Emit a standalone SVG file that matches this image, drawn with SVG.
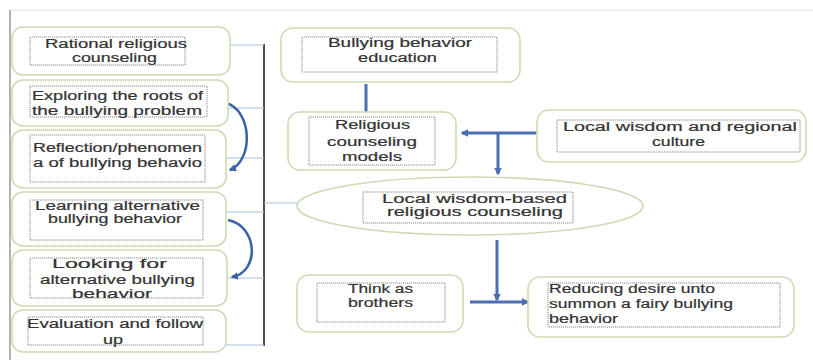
<svg xmlns="http://www.w3.org/2000/svg" width="813" height="360" viewBox="0 0 813 360">
<defs>
<style>
.box{fill:#fff;stroke:#cddbb4;stroke-width:1.6}
.inner{fill:#fff;stroke:#8a8a8a;stroke-width:1;stroke-dasharray:1.2 0.8}
.t{font-family:"Liberation Sans",Arial,sans-serif;font-size:12.5px;fill:#333;stroke:#333;stroke-width:0.2}
.thin{stroke:#a9c0de;stroke-width:1.2;fill:none}
.blue{stroke:#4a6fb0;stroke-width:3;fill:none}
.arc{stroke:#3b62a6;stroke-width:2.5;fill:none}
</style>
<marker id="ah" viewBox="0 0 10 10" refX="8" refY="5" markerWidth="2.6" markerHeight="2.6" orient="auto">
<path d="M0,0 L10,5 L0,10 z" fill="#4a6fb0"/>
</marker>
<marker id="ah2" viewBox="0 0 10 10" refX="8" refY="5" markerWidth="3" markerHeight="3" orient="auto">
<path d="M0,0 L10,5 L0,10 z" fill="#3b62a6"/>
</marker>
</defs>
<rect width="813" height="360" fill="#fff"/>
<g id="frame">
<line x1="10" y1="10" x2="813" y2="10" stroke="#e2e2e2" stroke-width="1"/>
<line x1="10" y1="10" x2="10" y2="360" stroke="#666" stroke-width="1"/>
<line x1="264" y1="44" x2="264" y2="346" stroke="#111" stroke-width="1.5"/>
</g>
<g id="connectors">
<line class="thin" x1="230" y1="45" x2="264" y2="45"/>
<line class="thin" x1="228" y1="108" x2="264" y2="108"/>
<line class="thin" x1="226" y1="158" x2="264" y2="158"/>
<line class="thin" x1="226" y1="212" x2="264" y2="212"/>
<line class="thin" x1="227" y1="278" x2="264" y2="278"/>
<line class="thin" x1="226" y1="345" x2="264" y2="345"/>
<line class="thin" x1="264" y1="203" x2="297" y2="203"/>
<path class="arc" d="M226,103 C252,110 254,160 230,170" marker-end="url(#ah2)"/>
<path class="arc" d="M228,220 C258,226 260,272 232,277" marker-end="url(#ah2)"/>
<line class="blue" x1="366" y1="84" x2="366" y2="114"/>
<line class="blue" x1="537" y1="133" x2="462" y2="133" marker-end="url(#ah)"/>
<line class="blue" x1="498" y1="133" x2="498" y2="174" marker-end="url(#ah)"/>
<line class="blue" x1="497" y1="240" x2="497" y2="300" marker-end="url(#ah)"/>
<line class="blue" x1="470" y1="302" x2="528" y2="302" marker-end="url(#ah)"/>
</g>
<g id="n1">
<rect class="box" x="12" y="27" width="218" height="48" rx="11"/>
<rect class="inner" x="30" y="37" width="155" height="28"/>
<text class="t" x="45" y="48" textLength="142" lengthAdjust="spacingAndGlyphs">Rational religious</text>
<text class="t" x="72" y="62" textLength="85" lengthAdjust="spacingAndGlyphs">counseling</text>
</g>
<g id="n2">
<rect class="box" x="12" y="80" width="216" height="46" rx="11"/>
<rect class="inner" x="30" y="86" width="177" height="31"/>
<text class="t" x="32" y="100" textLength="171" lengthAdjust="spacingAndGlyphs">Exploring the roots of</text>
<text class="t" x="32" y="115" textLength="170" lengthAdjust="spacingAndGlyphs">the bullying problem</text>
</g>
<g id="n3">
<rect class="box" x="12" y="130" width="214" height="58" rx="11"/>
<rect class="inner" x="30" y="135" width="175" height="47"/>
<text class="t" x="33" y="152" textLength="169" lengthAdjust="spacingAndGlyphs">Reflection/phenomen</text>
<text class="t" x="33" y="167" textLength="169" lengthAdjust="spacingAndGlyphs">a of bullying behavio</text>
</g>
<g id="n4">
<rect class="box" x="12" y="192" width="214" height="54" rx="11"/>
<rect class="inner" x="30" y="200" width="173" height="40"/>
<text class="t" x="35" y="210" textLength="165" lengthAdjust="spacingAndGlyphs">Learning alternative</text>
<text class="t" x="48" y="223" textLength="134" lengthAdjust="spacingAndGlyphs">bullying behavior</text>
</g>
<g id="n5">
<rect class="box" x="12" y="250" width="215" height="56" rx="11"/>
<rect class="inner" x="30" y="258" width="173" height="40"/>
<text class="t" x="52" y="268" textLength="115" lengthAdjust="spacingAndGlyphs">Looking for</text>
<text class="t" x="40" y="284" textLength="155" lengthAdjust="spacingAndGlyphs">alternative bullying</text>
<text class="t" x="72" y="298" textLength="80" lengthAdjust="spacingAndGlyphs">behavior</text>
</g>
<g id="n6">
<rect class="box" x="12" y="310" width="214" height="42" rx="11"/>
<rect class="inner" x="28" y="317" width="175" height="28"/>
<text class="t" x="27" y="328" textLength="176" lengthAdjust="spacingAndGlyphs">Evaluation and follow</text>
<text class="t" x="103" y="344" textLength="20" lengthAdjust="spacingAndGlyphs">up</text>
</g>
<g id="n7">
<rect class="box" x="281" y="28" width="239" height="54" rx="12"/>
<rect class="inner" x="302" y="37" width="195" height="35"/>
<text class="t" x="328" y="47" textLength="144" lengthAdjust="spacingAndGlyphs">Bullying behavior</text>
<text class="t" x="358" y="62" textLength="79" lengthAdjust="spacingAndGlyphs">education</text>
</g>
<g id="n8">
<rect class="box" x="288" y="112" width="168" height="58" rx="12"/>
<rect class="inner" x="309" y="117" width="126" height="48"/>
<text class="t" x="335" y="129" textLength="75" lengthAdjust="spacingAndGlyphs">Religious</text>
<text class="t" x="327" y="146" textLength="90" lengthAdjust="spacingAndGlyphs">counseling</text>
<text class="t" x="342" y="161" textLength="60" lengthAdjust="spacingAndGlyphs">models</text>
</g>
<g id="n9">
<rect class="box" x="537" y="110" width="269" height="52" rx="12"/>
<rect class="inner" x="557" y="120" width="243" height="32"/>
<text class="t" x="563" y="131" textLength="234" lengthAdjust="spacingAndGlyphs">Local wisdom and regional</text>
<text class="t" x="652" y="146" textLength="53" lengthAdjust="spacingAndGlyphs">culture</text>
</g>
<g id="n10">
<ellipse class="box" cx="470" cy="206" rx="173" ry="29"/>
<rect class="inner" x="363" y="192" width="210" height="31"/>
<text class="t" x="382" y="203" textLength="185" lengthAdjust="spacingAndGlyphs">Local wisdom-based</text>
<text class="t" x="387" y="216" textLength="176" lengthAdjust="spacingAndGlyphs">religious counseling</text>
</g>
<g id="n11">
<rect class="box" x="297" y="275" width="166" height="57" rx="12"/>
<rect class="inner" x="317" y="283" width="128" height="39"/>
<text class="t" x="348" y="293" textLength="65" lengthAdjust="spacingAndGlyphs">Think as</text>
<text class="t" x="348" y="307" textLength="65" lengthAdjust="spacingAndGlyphs">brothers</text>
</g>
<g id="n12">
<rect class="box" x="528" y="277" width="266" height="60" rx="12"/>
<rect class="inner" x="548" y="283" width="232" height="44"/>
<text class="t" x="549" y="293" textLength="166" lengthAdjust="spacingAndGlyphs">Reducing desire unto</text>
<text class="t" x="549" y="308" textLength="184" lengthAdjust="spacingAndGlyphs">summon a fairy bullying</text>
<text class="t" x="549" y="323" textLength="69" lengthAdjust="spacingAndGlyphs">behavior</text>
</g>
</svg>
